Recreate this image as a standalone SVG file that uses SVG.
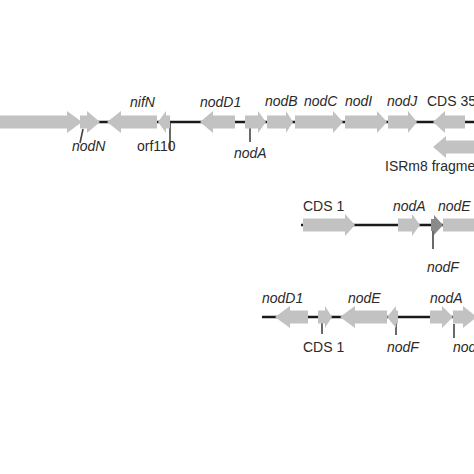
<svg xmlns="http://www.w3.org/2000/svg" width="474" height="474" viewBox="0 0 474 474">
<style>
.g{fill:#c2c2c2}
.d{fill:#8a8a8a}
.ln{stroke:#1a1a1a;stroke-width:2.6;fill:none}
.tk{stroke:#444;stroke-width:1.6;fill:none}
text{font-family:"Liberation Sans",Arial,sans-serif;font-size:14px;fill:#2a2a2a}
.i{font-style:italic}
</style>
<rect width="474" height="474" fill="#fff"/>
<g id="connectors">
<line class="ln" x1="96" y1="122" x2="474" y2="122"/>
<line class="ln" x1="301" y1="225" x2="474" y2="225"/>
<line class="ln" x1="262" y1="317" x2="474" y2="317"/>
<line class="tk" x1="83" y1="129" x2="80" y2="143"/>
<line class="tk" x1="170" y1="122" x2="170" y2="150"/>
<line class="tk" x1="250" y1="128" x2="250" y2="142"/>
<line class="tk" x1="433" y1="228" x2="433" y2="249"/>
<line class="tk" x1="322" y1="322" x2="322" y2="334"/>
<line class="tk" x1="396" y1="322" x2="396" y2="335"/>
<line class="tk" x1="454" y1="324" x2="454" y2="338"/>
</g>
<g id="row1">
<g id="gene-left"><path class="g" d="M-5,115.5H67V111L82,122L67,133V128.5H-5Z"/></g>
<g id="nodN"><path class="g" d="M80,115.5H87V111L100,122L87,133V128.5H80Z"/><text class="i" x="72" y="151">nodN</text></g>
<g id="nifN"><path class="g" d="M157,115.5H121V111L107,122L121,133V128.5H157Z"/><text class="i" x="130" y="107">nifN</text></g>
<g id="orf110"><path class="g" d="M170,115.5H166V111L158,122L166,133V128.5H170Z"/><text x="137" y="151">orf110</text></g>
<g id="nodD1"><path class="g" d="M235,115.5H213V111L200,122L213,133V128.5H235Z"/><text class="i" x="200" y="107">nodD1</text></g>
<g id="nodA"><path class="g" d="M245,115.5H258V111L266,122L258,133V128.5H245Z"/><text class="i" x="234" y="158">nodA</text></g>
<g id="nodB"><path class="g" d="M267,115.5H286V111L293,122L286,133V128.5H267Z"/><text class="i" x="265" y="106">nodB</text></g>
<g id="nodC"><path class="g" d="M295,115.5H333V111L343,122L333,133V128.5H295Z"/><text class="i" x="304" y="106">nodC</text></g>
<g id="nodI"><path class="g" d="M345,115.5H377V111L387,122L377,133V128.5H345Z"/><text class="i" x="345" y="106">nodI</text></g>
<g id="nodJ"><path class="g" d="M388,115.5H408V111L417,122L408,133V128.5H388Z"/><text class="i" x="387" y="106">nodJ</text></g>
<g id="CDS35"><path class="g" d="M465,115.5H445V111L433,122L445,133V128.5H465Z"/><text x="427" y="106">CDS 35</text></g>
<g id="ISRm8"><path class="g" d="M480,140.5H446V136L433,147L446,158V153.5H480Z"/><text x="385" y="171">ISRm8 fragment</text></g>
</g>
<g id="row2">
<g id="r2-CDS1"><path class="g" d="M303,218.5H345V214L355,225L345,236V231.5H303Z"/><text x="303" y="211">CDS 1</text></g>
<g id="r2-nodA"><path class="g" d="M398,218.5H412V214L420,225L412,236V231.5H398Z"/><text class="i" x="393" y="211">nodA</text></g>
<g id="r2-nodF"><path class="d" d="M431,219H434V215L443,225L434,235V231H431Z"/><text class="i" x="427" y="272">nodF</text></g>
<g id="r2-nodE"><path class="g" d="M443,218.5H480V231.5H443Z"/><text class="i" x="438" y="211">nodE</text></g>
</g>
<g id="row3">
<g id="r3-nodD1"><path class="g" d="M308,310.5H290V306L275,317L290,328V323.5H308Z"/><text class="i" x="262" y="303">nodD1</text></g>
<g id="r3-CDS1"><path class="g" d="M318,310.5H325V306L332,317L325,328V323.5H318Z"/><text x="303" y="352">CDS 1</text></g>
<g id="r3-nodE"><path class="g" d="M387,310.5H355V306L340,317L355,328V323.5H387Z"/><text class="i" x="348" y="303">nodE</text></g>
<g id="r3-nodF"><path class="g" d="M398,310.5H396V306L387,317L396,328V323.5H398Z"/><text class="i" x="387" y="352">nodF</text></g>
<g id="r3-nodA"><path class="g" d="M430,310.5H442V306L453,317L442,328V323.5H430Z"/><text class="i" x="430" y="303">nodA</text></g>
<g id="r3-nodB"><path class="g" d="M453,310.5H463V306L477,317L463,328V323.5H453Z"/><text class="i" x="453" y="352">nodB</text></g>
</g>
</svg>
